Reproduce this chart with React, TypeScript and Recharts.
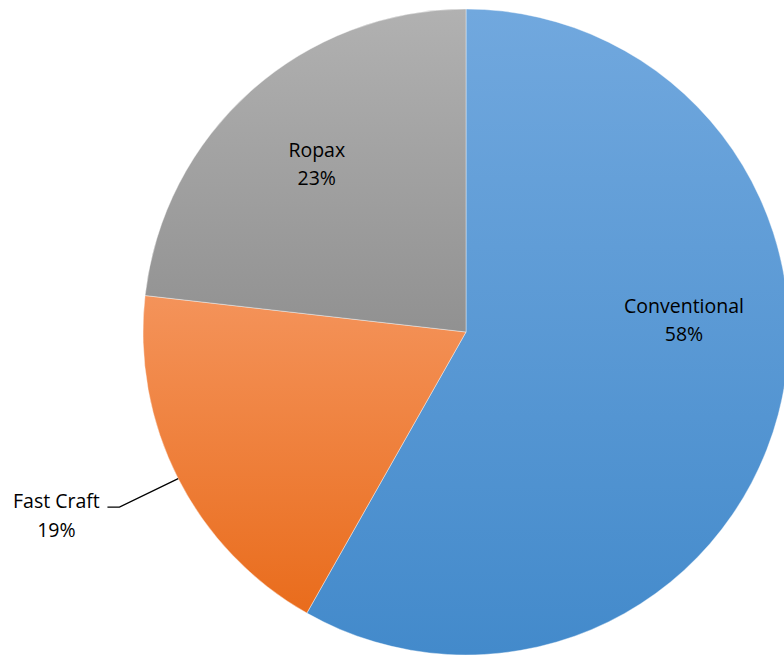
import { PieChart, Pie, Cell } from "recharts"

const categories = ["Conventional", "Fast Craft", "Ropax"]
// shares as read from the slice edges; labels show them rounded
const shares = [58.2, 18.6, 23.2]

const data = categories.map((name, i) => ({ name, value: shares[i] }))

// gradient stops, top -> bottom
const fills = [
  ["#71a8de", "#438acb"],
  ["#f4935a", "#e96c1c"],
  ["#b1b1b1", "#919191"],
]

// label block offset from centre, in units of radius (first baseline)
const labelPos: Record<string, { dx: number; dy: number; leader?: boolean }> = {
  Conventional: { dx: 0.675, dy: -0.06 },
  "Fast Craft": { dx: -1.268, dy: 0.545, leader: true },
  Ropax: { dx: -0.462, dy: -0.542 },
}

const RAD = Math.PI / 180

function renderLabel(props: any) {
  const { cx, cy, midAngle, outerRadius, name, value } = props
  const pos = labelPos[name]
  const x = cx + pos.dx * outerRadius
  const y = cy + pos.dy * outerRadius
  const textProps = {
    fontFamily: "'Open Sans', sans-serif",
    fontSize: 19.5,
    fill: "#000",
    textAnchor: "middle" as const,
  }
  let leader = null
  if (pos.leader) {
    const ex = cx + outerRadius * Math.cos(-midAngle * RAD)
    const ey = cy + outerRadius * Math.sin(-midAngle * RAD)
    const kx = x + 63
    const ky = y - 1
    leader = (
      <polyline
        points={`${ex},${ey} ${kx},${ky} ${kx - 12},${ky}`}
        fill="none"
        stroke="#000"
        strokeWidth={1.3}
      />
    )
  }
  return (
    <g>
      {leader}
      <text x={x} y={y} {...textProps}>
        {name}
      </text>
      <text x={x} y={y + 28.5} {...textProps}>
        {Math.round(value)}%
      </text>
    </g>
  )
}

export default function App() {
  return (
    <div style={{ position: "absolute", left: 0, top: 0, width: 784, height: 655, background: "#fff" }}>
      <PieChart width={784} height={655} margin={{ top: 0, right: 0, bottom: 0, left: 0 }}>
        <defs>
          {fills.map((f, i) => (
            <linearGradient key={i} id={`grad${i}`} x1="0" y1="0" x2="0" y2="1">
              <stop offset="0%" stopColor={f[0]} />
              <stop offset="100%" stopColor={f[1]} />
            </linearGradient>
          ))}
        </defs>
        <Pie
          data={data}
          dataKey="value"
          nameKey="name"
          cx={466}
          cy={332}
          outerRadius={323}
          startAngle={90}
          endAngle={-270}
          stroke="#ffffff"
          strokeWidth={0.4}
          label={renderLabel}
          labelLine={false}
          isAnimationActive={false}
        >
          {data.map((d, i) => (
            <Cell key={d.name} fill={`url(#grad${i})`} />
          ))}
        </Pie>
      </PieChart>
    </div>
  )
}
